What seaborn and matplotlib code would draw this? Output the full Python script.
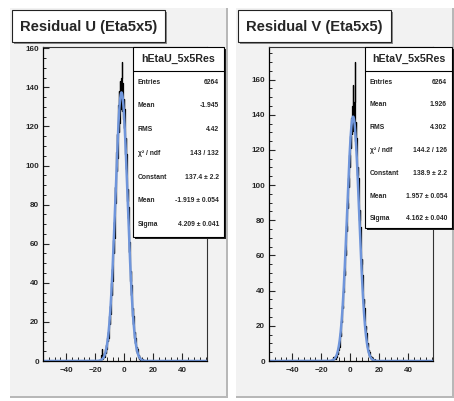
import numpy as np
import pandas as pd
import matplotlib
matplotlib.use("Agg")
import matplotlib.pyplot as plt
from matplotlib.patches import Rectangle
import seaborn as sns

# histogram bins (500 bins over -56..56 -> width 0.224), only the filled part is listed
BIN_W = 0.224
U_START = -17.024
U_COUNTS = [
    0, 1, 0, 2, 1, 3, 6, 5, 2, 1, 2, 1, 3, 2, 4, 2, 5, 3, 6, 4,
    8, 6, 10, 7, 12, 10, 15, 12, 20, 16, 23, 19, 28, 24, 33, 29, 40, 34, 47, 41,
    55, 48, 62, 55, 71, 63, 80, 72, 89, 81, 98, 89, 107, 97, 116, 104, 124, 111, 131, 117,
    138, 122, 143, 127, 131, 141, 129, 145, 153, 128, 142, 126, 139, 124, 134, 119, 129, 113, 121, 106,
    114, 98, 106, 90, 97, 82, 88, 73, 79, 64, 70, 56, 61, 48, 53, 41, 46, 34, 39, 29,
    33, 23, 27, 19, 23, 15, 18, 12, 15, 9, 12, 7, 9, 5, 7, 4, 6, 3, 4, 2,
    3, 1, 2, 1, 2, 0, 1, 1, 0, 1, 0, 0, 1, 0,
]
V_START = -12.992
V_COUNTS = [
    0, 0, 1, 0, 1, 0, 2, 1, 1, 2, 1, 2, 3, 1, 3, 2, 4, 3, 5, 4,
    7, 6, 8, 9, 8, 12, 11, 16, 14, 19, 17, 23, 22, 25, 31, 30, 33, 40, 39, 44,
    51, 49, 55, 63, 60, 68, 77, 74, 81, 90, 87, 94, 104, 99, 106, 117, 110, 118, 128, 121,
    127, 138, 129, 134, 145, 133, 157, 131, 144, 136, 147, 170, 130, 141, 125, 136, 120, 127, 112, 119,
    106, 110, 97, 104, 88, 94, 80, 86, 72, 76, 63, 66, 55, 58, 46, 49, 38, 42, 33, 35,
    27, 30, 22, 25, 18, 20, 14, 16, 11, 13, 8, 10, 6, 8, 5, 6, 3, 5, 2, 4,
    2, 3, 1, 2, 1, 2, 0, 1, 1, 0, 1, 0, 0, 1,
]

# gaussian fit results shown in the stat boxes
U_FIT = (137.4, -1.919, 4.209)
V_FIT = (138.9, 1.957, 4.162)

U_TITLE = "Residual U (Eta5x5)"
V_TITLE = "Residual V (Eta5x5)"
U_STATS = [("Entries", "6264"), ("Mean", "-1.945"), ("RMS", "4.42"),
           ("χ² / ndf", "143 / 132"), ("Constant", "137.4 ± 2.2"),
           ("Mean", "-1.919 ± 0.054"), ("Sigma", "4.209 ± 0.041")]
V_STATS = [("Entries", "6264"), ("Mean", "1.926"), ("RMS", "4.302"),
           ("χ² / ndf", "144.2 / 126"), ("Constant", "138.9 ± 2.2"),
           ("Mean", "1.957 ± 0.054"), ("Sigma", "4.162 ± 0.040")]

XLIM = (-56, 57)
X_TICKS = [-40, -20, 0, 20, 40]
U_YMAX = 160.65
V_YMAX = 178.5

W, H = 454, 401
PAD_GRAY = "#f2f2f2"
FIT_BLUE = "#6f95db"

sns.set_style("white")
plt.rcParams["font.family"] = ["Liberation Sans", "DejaVu Sans"]
plt.rcParams["font.weight"] = "bold"


def fx(x):
    return x / W


def fy(y):
    return 1 - y / H


def box(fig, x0, y0, x1, y1, **kw):
    r = Rectangle((fx(x0), fy(y1)), (x1 - x0) / W, (y1 - y0) / H,
                  transform=fig.transFigure, **kw)
    fig.patches.append(r)
    return r


def draw_pad(fig, px0, name, title, title_w, counts, start, fit, ymax, stats, sx0, sx1, sy1, row_h):
    # pad background with bevel
    box(fig, px0, 8, px0 + 218, 398, facecolor=PAD_GRAY, edgecolor="none", zorder=-2)
    box(fig, px0 + 216, 8, px0 + 218, 398, facecolor="#b8b8b8", edgecolor="none", zorder=-1)
    box(fig, px0, 396, px0 + 218, 398, facecolor="#b8b8b8", edgecolor="none", zorder=-1)

    ax = fig.add_axes([fx(px0 + 33), fy(361), 164 / W, 314 / H])
    ax.set_facecolor(PAD_GRAY)

    n = len(counts)
    centers = start + BIN_W * (np.arange(n) + 0.5)
    df = pd.DataFrame({"x": centers, "count": counts})
    sns.histplot(data=df, x="x", weights="count", binwidth=BIN_W,
                 binrange=(start, start + BIN_W * n), element="step", fill=False,
                 color="black", linewidth=0.9, ax=ax)

    const, mean, sigma = fit
    xs = np.linspace(XLIM[0], XLIM[1], 2000)
    ys = const * np.exp(-0.5 * ((xs - mean) / sigma) ** 2)
    sns.lineplot(x=xs, y=ys, color=FIT_BLUE, linewidth=1.8, ax=ax)

    ax.set_xlim(*XLIM)
    ax.set_ylim(0, ymax)
    ax.set_xlabel("")
    ax.set_ylabel("")
    ax.set_xticks(X_TICKS)
    ax.set_xticks(np.arange(-52, 57, 4), minor=True)
    ax.set_yticks(np.arange(0, ymax, 20))
    ax.set_yticks(np.arange(0, ymax, 5), minor=True)
    ax.tick_params(axis="x", which="major", direction="in", length=6, width=0.8,
                   labelsize=5.8, pad=4, bottom=True)
    ax.tick_params(axis="x", which="minor", direction="in", length=3, width=0.7, bottom=True)
    ax.tick_params(axis="y", which="major", direction="in", length=4.5, width=0.8,
                   labelsize=5.8, pad=3, left=True)
    ax.tick_params(axis="y", which="minor", direction="in", length=2.3, width=0.7, left=True)
    for lab in ax.get_xticklabels() + ax.get_yticklabels():
        lab.set_fontweight("bold")
    for side in ["left", "bottom"]:
        ax.spines[side].set_color("black")
        ax.spines[side].set_linewidth(0.9)
    for side in ["top", "right"]:
        ax.spines[side].set_color("#333333")
        ax.spines[side].set_linewidth(0.8)

    # title box
    tx0 = px0 + 2
    box(fig, tx0 + 2, 12, tx0 + title_w + 2, 44, facecolor="#8a8a8a", edgecolor="none", zorder=4)
    box(fig, tx0, 10, tx0 + title_w, 42, facecolor="white", edgecolor="#222222",
        linewidth=0.8, zorder=5)
    fig.text(fx(tx0 + title_w / 2), fy(26.5), title, ha="center", va="center",
             fontsize=10.6, fontweight="bold", zorder=6)

    # stats box
    box(fig, sx0 + 2, 49, sx1 + 2, sy1 + 2, facecolor="#222222", edgecolor="none", zorder=4)
    box(fig, sx0, 47, sx1, sy1, facecolor="white", edgecolor="black", linewidth=0.8, zorder=5)
    fig.lines.append(plt.Line2D([fx(sx0), fx(sx1)], [fy(71), fy(71)],
                                transform=fig.transFigure, color="black",
                                linewidth=0.8, zorder=6))
    fig.text(fx((sx0 + sx1) / 2), fy(59), name, ha="center", va="center",
             fontsize=7.7, fontweight="bold", zorder=6)
    for i, (lab, val) in enumerate(stats):
        y = 82 + i * row_h
        fig.text(fx(sx0 + 5), fy(y), lab, ha="left", va="center",
                 fontsize=4.9, fontweight="bold", zorder=6)
        fig.text(fx(sx1 - 5), fy(y), val, ha="right", va="center",
                 fontsize=4.9, fontweight="bold", zorder=6)
    return ax


fig = plt.figure(figsize=(W / 100, H / 100), dpi=100)
fig.patch.set_facecolor("white")

draw_pad(fig, 10, "hEtaU_5x5Res", U_TITLE, 153, U_COUNTS, U_START, U_FIT, U_YMAX,
         U_STATS, 133, 224, 237, 23.8)
draw_pad(fig, 236, "hEtaV_5x5Res", V_TITLE, 153, V_COUNTS, V_START, V_FIT, V_YMAX,
         V_STATS, 365, 452, 228, 22.8)

fig.savefig("out.png", dpi=100)
